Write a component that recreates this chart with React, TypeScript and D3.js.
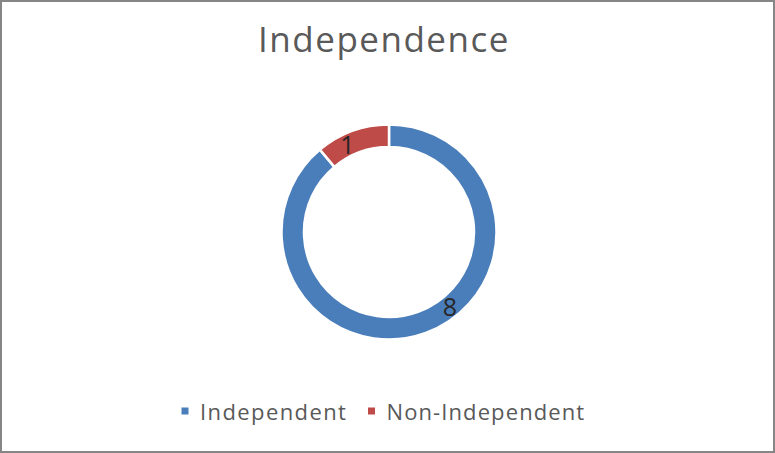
import React, { useRef, useEffect } from 'react';
import * as d3 from 'd3';

const categories = ['Independent', 'Non-Independent'];
const values = [8, 1];
const colors = ['#4A7EBB', '#BE4B48'];
// where the data label sits along its slice (0 = start, 1 = end)
const labelFractions = [0.44, 0.36];

const width = 775;
const height = 453;

const App: React.FC = () => {
    const ref = useRef<SVGSVGElement>(null);

    useEffect(() => {
        if (!ref.current) return;
        const svg = d3.select(ref.current);
        svg.selectAll('*').remove();

        const font = '"Open Sans", "Liberation Sans", sans-serif';

        svg.append('rect')
            .attr('x', 1).attr('y', 1)
            .attr('width', width - 2).attr('height', height - 2)
            .attr('fill', '#fff')
            .attr('stroke', '#868686')
            .attr('stroke-width', 2);

        svg.append('text')
            .attr('x', 384)
            .attr('y', 52)
            .attr('text-anchor', 'middle')
            .attr('font-family', font)
            .attr('font-size', 35)
            .attr('letter-spacing', 1.5)
            .attr('fill', '#595959')
            .text('Independence');

        const cx = 389, cy = 232;
        const outer = 107.5, inner = 85;

        const pie = d3.pie<number>().value(d => d).sort(null);
        const arcs = pie(values);
        const arc = d3.arc<d3.PieArcDatum<number>>()
            .innerRadius(inner)
            .outerRadius(outer);

        const g = svg.append('g').attr('transform', `translate(${cx}, ${cy})`);
        g.selectAll('path')
            .data(arcs)
            .enter()
            .append('path')
            .attr('d', arc)
            .attr('fill', (d, i) => colors[i])
            .attr('stroke', '#fff')
            .attr('stroke-width', 2.5);

        const labelR = (inner + outer) / 2;
        g.selectAll('text.lbl')
            .data(arcs)
            .enter()
            .append('text')
            .attr('class', 'lbl')
            .attr('x', (d, i) => {
                const a = d.startAngle + (d.endAngle - d.startAngle) * labelFractions[i];
                return labelR * Math.sin(a);
            })
            .attr('y', (d, i) => {
                const a = d.startAngle + (d.endAngle - d.startAngle) * labelFractions[i];
                return -labelR * Math.cos(a);
            })
            .attr('dy', '0.36em')
            .attr('text-anchor', 'middle')
            .attr('font-family', font)
            .attr('font-size', 25)
            .attr('fill', '#262626')
            .text(d => String(d.data));

        // legend
        const legendX = [181.5, 368];
        const legendSpacing = [1.4, 1.1];
        const legend = svg.append('g');
        categories.forEach((c, i) => {
            legend.append('rect')
                .attr('x', legendX[i]).attr('y', 407.5)
                .attr('width', 7).attr('height', 7)
                .attr('fill', colors[i]);
            legend.append('text')
                .attr('x', legendX[i] + 18.5)
                .attr('y', 420)
                .attr('font-family', font)
                .attr('font-size', 22)
                .attr('letter-spacing', legendSpacing[i])
                .attr('fill', '#595959')
                .text(c);
        });
    }, []);

    return (
        <svg ref={ref} width={width} height={height}
            style={{ position: 'absolute', top: 0, left: 0 }}></svg>
    );
};

export default App;
